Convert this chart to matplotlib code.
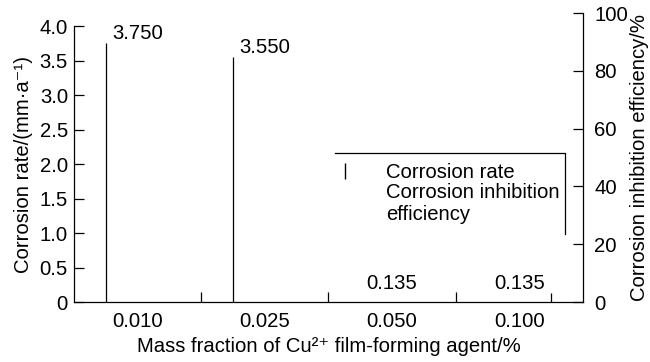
import matplotlib
matplotlib.use("Agg")
import matplotlib.pyplot as plt
from matplotlib.lines import Line2D
import numpy as np

# data
categories = ["0.010", "0.025", "0.050", "0.100"]
corrosion_rate = [3.750, 3.550, 0.135, 0.135]
# which side of each bar still shows its edge (-1 left, 1 right, 0 none)
edge_side = [-1, -1, 0, 1]
rate_ticks = [0, 0.5, 1.0, 1.5, 2.0, 2.5, 3.0, 3.5, 4.0]
rate_labels = ["0", "0.5", "1.0", "1.5", "2.0", "2.5", "3.0", "3.5", "4.0"]
eff_ticks = [0, 20, 40, 60, 80, 100]

plt.rcParams["font.family"] = ["Liberation Sans", "DejaVu Sans"]
fs = 14.6

fig = plt.figure(figsize=(6.5, 3.62), dpi=100)
ax = fig.add_axes([0.1138, 0.1657, 0.7831, 0.7983])
ax2 = ax.twinx()

x = np.arange(len(categories))
bw = 0.5
bars = ax.bar(x, corrosion_rate, width=bw, color="none", edgecolor="none")
ax.bar_label(bars, fmt="%.3f", padding=0, fontsize=fs)

ex = [xi + s * bw / 2 for xi, s in zip(x, edge_side) if s != 0]
ey = [v for v, s in zip(corrosion_rate, edge_side) if s != 0]
ax.vlines(ex, 0, ey, color="black", lw=0.9)

ax.set_xlim(-0.5, len(categories) - 0.5)
ax.set_ylim(0, 4.0 * 289 / 276)
ax.spines["top"].set_visible(False)
ax.spines["right"].set_visible(False)
ax.spines["left"].set_bounds(0, 4.0)
for s in ["left", "bottom"]:
    ax.spines[s].set_linewidth(0.9)

ax.set_xticks(x[:-1] + 0.5)
ax.set_xticklabels([])
ax.set_xticks(x, minor=True)
ax.set_xticklabels(categories, minor=True, fontsize=fs)
ax.tick_params(axis="x", which="major", direction="in", length=7, width=0.9)
ax.tick_params(axis="x", which="minor", length=0, pad=7)
ax.set_yticks(rate_ticks)
ax.set_yticklabels(rate_labels, fontsize=fs)
ax.tick_params(axis="y", direction="in", length=7, width=0.9, pad=4.3)

ax2.set_ylim(0, 100)
ax2.set_yticks(eff_ticks)
ax2.set_yticklabels([str(t) for t in eff_ticks], fontsize=fs)
ax2.tick_params(axis="y", direction="in", length=7, width=0.9, pad=8)
for s in ["top", "left", "bottom"]:
    ax2.spines[s].set_visible(False)
ax2.spines["right"].set_linewidth(0.9)

ax.set_ylabel("Corrosion rate/(mm·a⁻¹)", fontsize=fs)
ax.yaxis.set_label_coords(-0.08, 0.475)
ax2.set_ylabel("Corrosion inhibition efficiency/%", fontsize=fs)
ax2.yaxis.set_label_coords(1.092, 0.5)
ax.set_xlabel("Mass fraction of Cu²⁺ film-forming agent/%", fontsize=fs)
ax.xaxis.set_label_coords(0.5, -0.122)

# legend, only top and right of its frame remain
handles = [Line2D([], [], ls="none", marker="|", color="black", markersize=12, mew=1),
           Line2D([], [], ls="none")]
leg = ax2.legend(handles, ["Corrosion rate", "Corrosion inhibition\nefficiency"],
                 loc="upper left", bbox_to_anchor=(0.493, 0.48), frameon=False,
                 borderpad=0, borderaxespad=0, handlelength=2, handletextpad=1,
                 labelspacing=0.05, fontsize=fs)
ax2.add_line(Line2D([0.5128, 0.9646, 0.9646], [0.5156, 0.5156, 0.2353],
                    transform=ax2.transAxes, color="black", lw=0.9))

fig.savefig("out.png", dpi=100)
